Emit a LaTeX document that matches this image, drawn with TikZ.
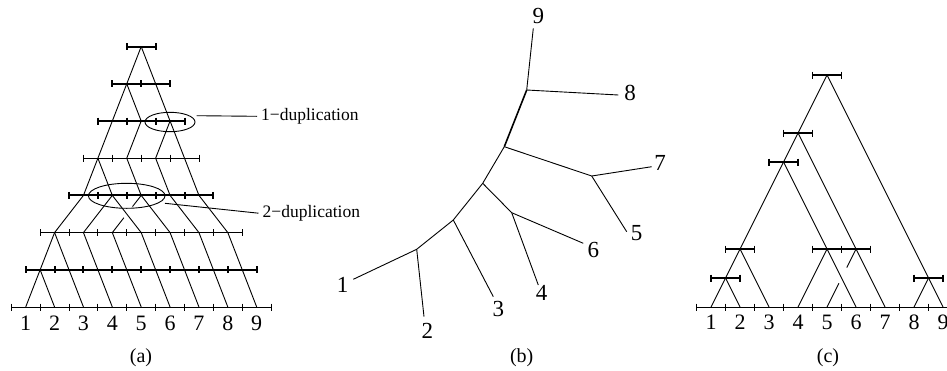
\documentclass[tikz,border=0pt]{standalone}
\usepackage{fontspec}
\setmainfont{Liberation Serif}
\usetikzlibrary{calc,shapes.geometric}
\begin{document}
\begin{tikzpicture}[x=1pt,y=-1pt,
  edge/.style={line width=0.9pt},
  thinbar/.style={line width=0.9pt},
  thickbar/.style={line width=2pt},
  cbar/.style={line width=1.6pt},
  leaflab/.style={anchor=base,inner sep=0pt,font=\fontsize{22}{26}\selectfont},
  blab/.style={anchor=base,inner sep=0pt,font=\fontsize{23}{27}\selectfont},
  duplab/.style={anchor=west,inner ysep=0pt,inner xsep=4pt,font=\fontsize{17.5}{20}\selectfont},
  panellab/.style={anchor=base,inner sep=0pt,font=\fontsize{20}{24}\selectfont},
  ring/.style={draw,ellipse,line width=0.9pt,inner sep=0pt}
]
\useasboundingbox (0,0) rectangle (947,370);
\clip (0,0) rectangle (947,370);

% ---------- (a) tandem duplication history ----------
\def\sA{28.875}
\def\xA{141.2}
% lineage positions on every level
\foreach \k/\n in {0/9,1/8,2/7,3/5,4/4,5/3,6/2,7/1} {
  \pgfmathsetmacro\yk{307-37.2*\k}
  \foreach \j in {1,...,\n}
    \coordinate (a\k-\j) at ({\xA+(\j-(\n+1)/2)*\sA},\yk);
}
% level bars with their ticks
\foreach \k/\n/\w in {0/9/thinbar,1/8/thickbar,2/7/thinbar,3/5/thickbar,
                      4/4/thinbar,5/3/thickbar,6/2/thickbar,7/1/thickbar} {
  \pgfmathsetmacro\yk{307-37.2*\k}
  \pgfmathsetmacro\xl{\xA-\n*\sA/2}
  \pgfmathsetmacro\xr{\xA+\n*\sA/2}
  \draw[\w] (\xl,\yk) -- (\xr,\yk);
  \foreach \i in {0,...,\n}
    \draw[\w] ({\xl+\i*\sA},{\yk-3.5}) -- ({\xl+\i*\sA},{\yk+3.5});
}
% descent lines
\foreach \u/\v in {7-1/6-1,7-1/6-2,6-1/5-1,6-1/5-2,6-2/5-3,
                   5-1/4-1,5-2/4-2,5-3/4-3,5-3/4-4,
                   4-1/3-1,4-1/3-2,4-2/3-3,4-3/3-4,4-4/3-5,
                   3-1/2-1,3-2/2-2,3-2/2-4,3-3/2-5,3-4/2-6,3-5/2-7,
                   2-1/1-1,2-1/1-2,2-2/1-3,2-3/1-4,2-4/1-5,2-5/1-6,2-6/1-7,2-7/1-8,
                   1-1/0-1,1-1/0-2,1-2/0-3,1-3/0-4,1-4/0-5,1-5/0-6,1-6/0-7,1-7/0-8,1-8/0-9}
  \draw[edge] (a\u) -- (a\v);
% line passing under the crossing
\draw[edge] (a3-3) -- ($(a3-3)!0.3!(a2-3)$)
            ($(a3-3)!0.6!(a2-3)$) -- (a2-3);
% leaf numbers
\foreach \j in {1,...,9}
  \node[leaflab] (la\j) at ($(a0-\j)+(0,23)$) {\j};
% duplication marks
\node[ring,minimum width=50pt,minimum height=19.4pt] (dup1) at (170,122) {};
\node[ring,minimum width=76.6pt,minimum height=25pt] (dup2) at (126.7,195.8) {};
\node[duplab] (dup1lab) at (257,116.3) {1−duplication};
\node[duplab] (dup2lab) at (258.5,213.2) {2−duplication};
\coordinate (d1s) at (196.7,115.7);
\coordinate (d2s) at (165,203.3);
\draw[edge] (d1s) -- (dup1lab.west);
\draw[edge] (d2s) -- (dup2lab.west);
\node[panellab] (pa) at (141,362) {(a)};

% ---------- (b) unrooted tree ----------
\coordinate (t9) at (533.3,28.3);
\coordinate (bA) at (526.7,90);
\coordinate (t8) at (618.3,95);
\coordinate (bB) at (504.3,146.7);
\coordinate (bC) at (591.7,176);
\coordinate (t7) at (651.7,166.7);
\coordinate (t5) at (626.7,231.7);
\coordinate (bD) at (482.7,183.3);
\coordinate (bE) at (511.7,212.7);
\coordinate (t6) at (583.3,243.3);
\coordinate (t4) at (538.3,285);
\coordinate (bF) at (453.3,220);
\coordinate (t3) at (493.3,296.7);
\coordinate (bG) at (416.7,249.3);
\coordinate (t1) at (353.3,279.3);
\coordinate (t2) at (424,316.7);
\draw[edge] (t9) -- (bA) -- (t8);
\draw[cbar] (bA) -- (bB);
\draw[edge] (bB) -- (bC) -- (t7);
\draw[edge] (bC) -- (t5);
\draw[edge] (bB) -- (bD) -- (bE) -- (t6);
\draw[edge] (bE) -- (t4);
\draw[edge] (bD) -- (bF) -- (t3);
\draw[edge] (bF) -- (bG) -- (t1);
\draw[edge] (bG) -- (t2);
\node[blab] (lb9) at (538.3,23.3) {9};
\node[blab] (lb8) at (630,100) {8};
\node[blab] (lb7) at (660,170) {7};
\node[blab] (lb5) at (636.7,240.7) {5};
\node[blab] (lb6) at (593.3,257.3) {6};
\node[blab] (lb4) at (541.7,300) {4};
\node[blab] (lb3) at (498.3,316) {3};
\node[blab] (lb2) at (427.3,338.3) {2};
\node[blab] (lb1) at (342.7,292.7) {1};
\node[panellab] (pb) at (521.7,362) {(b)};

% ---------- (c) rooted duplication tree ----------
\foreach \i in {1,...,9}
  \coordinate (c0-\i) at ({711+(\i-1)*29},307);
\coordinate (c12)   at (725.5,278);
\coordinate (c123)  at (740,249);
\coordinate (c46)   at (827,249);
\coordinate (c57)   at (856,249);
\coordinate (c89)   at (928.5,278);
\coordinate (cL5)   at (783.5,162);
\coordinate (cL6)   at (798,133);
\coordinate (croot) at (827,75);
% axis
\draw[thinbar] (696.5,307) -- (965,307);
\foreach \i in {0,...,9}
  \draw[thinbar] ({696.5+29*\i},303.5) -- ({696.5+29*\i},310.5);
% node bars
\foreach \n in {c12,c123,c89,cL5,cL6,croot} {
  \draw[cbar] ($(\n)+(-14.5,0)$) -- ($(\n)+(14.5,0)$);
  \draw[cbar] ($(\n)+(-14.5,-3.5)$) -- ($(\n)+(-14.5,3.5)$);
  \draw[cbar] ($(\n)+(14.5,-3.5)$) -- ($(\n)+(14.5,3.5)$);
}
\draw[cbar] ($(c46)+(-14.5,0)$) -- ($(c57)+(14.5,0)$);
\foreach \d in {-14.5,14.5,43.5}
  \draw[cbar] ($(c46)+(\d,-3.5)$) -- ($(c46)+(\d,3.5)$);
% branches
\foreach \u/\v in {croot/cL6,croot/c89,cL6/cL5,cL6/c57,cL5/c123,cL5/c46,
                   c123/c12,c123/c0-3,c12/c0-1,c12/c0-2,c46/c0-4,c46/c0-6,
                   c57/c0-7,c89/c0-8,c89/c0-9}
  \draw[edge] (\u) -- (\v);
\draw[edge] (c57) -- ($(c57)!0.32!(c0-5)$)
            ($(c57)!0.59!(c0-5)$) -- (c0-5);
\foreach \i in {1,...,9}
  \node[leaflab] (lc\i) at ($(c0-\i)+(0,22.5)$) {\i};
\node[panellab] (pc) at (828,362) {(c)};
\end{tikzpicture}
\end{document}
